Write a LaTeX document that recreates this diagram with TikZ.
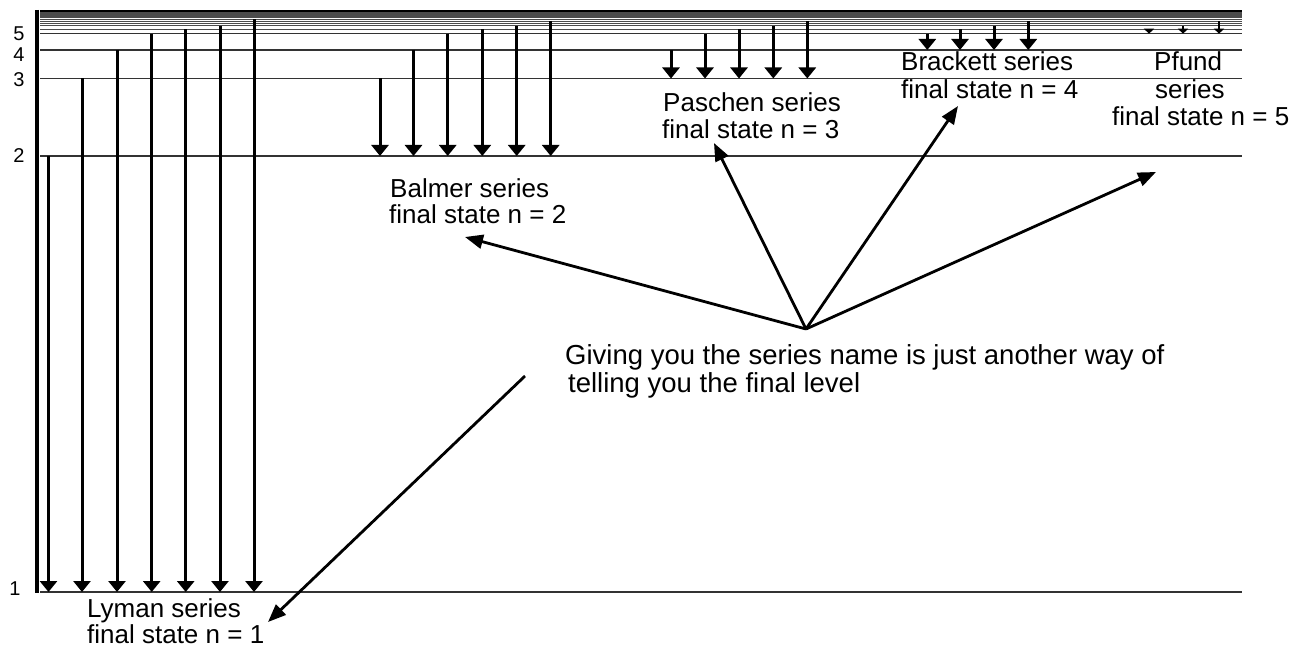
\documentclass[tikz,border=0pt]{standalone}
\usepackage{fontspec}
\setmainfont{Liberation Sans}
\usetikzlibrary{arrows.meta}
\begin{document}
\begin{tikzpicture}[x=1pt,y=-1pt,
  level/.style={line width=1.1pt, black!80},
  sublevel/.style={line width=0.8pt, black!70},
  trans/.style={line width=3pt, -{Triangle[width=17pt,length=11pt]}},
  smalltrans/.style={line width=2pt, -{Triangle[width=10pt,length=5pt]}},
  pointer/.style={line width=2.8pt, -{Triangle[width=14pt,length=18pt]}},
  lbl/.style={font=\fontsize{26}{26}\selectfont, inner sep=0pt, anchor=base west},
  biglbl/.style={font=\fontsize{27.5}{27.5}\selectfont, inner sep=0pt, anchor=base west},
  num/.style={font=\fontsize{20}{20}\selectfont, inner sep=0pt}]
\useasboundingbox (0,0) rectangle (1298,650);

% energy levels
\foreach \y in {592,156,78.5,50,33.7} \draw[level] (40,\y) -- (1242,\y);
\foreach \y in {29.3,25.8,23.2,21,19.2,17.7,16.5,15.5,14.6,13.9,13.2,12.6,12.1,11.6}
  \draw[sublevel] (40,\y) -- (1242,\y);
\draw[line width=2.2pt] (40,11) -- (1242,11);
\draw[line width=4.3pt] (37.3,9.9) -- (37.3,592.5);

% level numbers
\node[num] (n1) at (15,589) {1};
\node[num] (n2) at (19,156) {2};
\node[num] (n3) at (19,80) {3};
\node[num] (n4) at (19,54.5) {4};
\node[num] (n5) at (19,33.5) {5};

% Lyman
\foreach \x/\t in {48.5/156,82/78.5,117/50,151.7/33.7,185.7/29.3,220/25.8,254/19.2}
  \draw[trans] (\x,\t) -- (\x,592);
% Balmer
\foreach \x/\t in {380/78.5,413.5/50,447.7/33.7,482.3/29.3,516.7/25.8,550.7/21}
  \draw[trans] (\x,\t) -- (\x,156);
% Paschen
\foreach \x/\t in {671/50,705/33.7,739/29.3,773.3/25.8,807.3/21}
  \draw[trans] (\x,\t) -- (\x,78.5);
% Brackett
\foreach \x/\t in {927.3/33.7,960/29.3,994/25.8,1028.3/21}
  \draw[trans] (\x,\t) -- (\x,50);
% Pfund
\foreach \x/\t in {1149/29.3,1183/25.8,1219/21}
  \draw[smalltrans] (\x,\t) -- (\x,33.7);

% labels
\node[lbl] (ly1) at (87,617) {Lyman series};
\node[lbl] (ly2) at (87,643) {final state n = 1};
\node[lbl] (ba1) at (390,197) {Balmer series};
\node[lbl] (ba2) at (389,223) {final state n = 2};
\node[lbl] (pa1) at (663,112) {Paschen series};
\node[lbl] (pa2) at (662,139) {final state n = 3};
\node[lbl] (br1) at (901,71) {Brackett series};
\node[lbl] (br2) at (901,99) {final state n = 4};
\node[lbl] (pf1) at (1154,71) {Pfund};
\node[lbl] (pf2) at (1155,99) {series};
\node[lbl] (pf3) at (1112,125) {final state n = 5};
\node[biglbl] (gv1) at (565,364) {Giving you the series name is just another way of};
\node[biglbl] (gv2) at (568,392) {telling you the final level};

% pointers
\coordinate (hub) at (806,329);
\coordinate (tba) at (465,237);
\coordinate (tpa) at (714,143);
\coordinate (tbr) at (958,106);
\coordinate (tpf) at (1156,172);
\coordinate (lyS) at (525,376);
\coordinate (tly) at (268,622);
\draw[pointer] (hub) -- (tba);
\draw[pointer] (hub) -- (tpa);
\draw[pointer] (hub) -- (tbr);
\draw[pointer] (hub) -- (tpf);
\draw[pointer] (lyS) -- (tly);
\end{tikzpicture}
\end{document}
